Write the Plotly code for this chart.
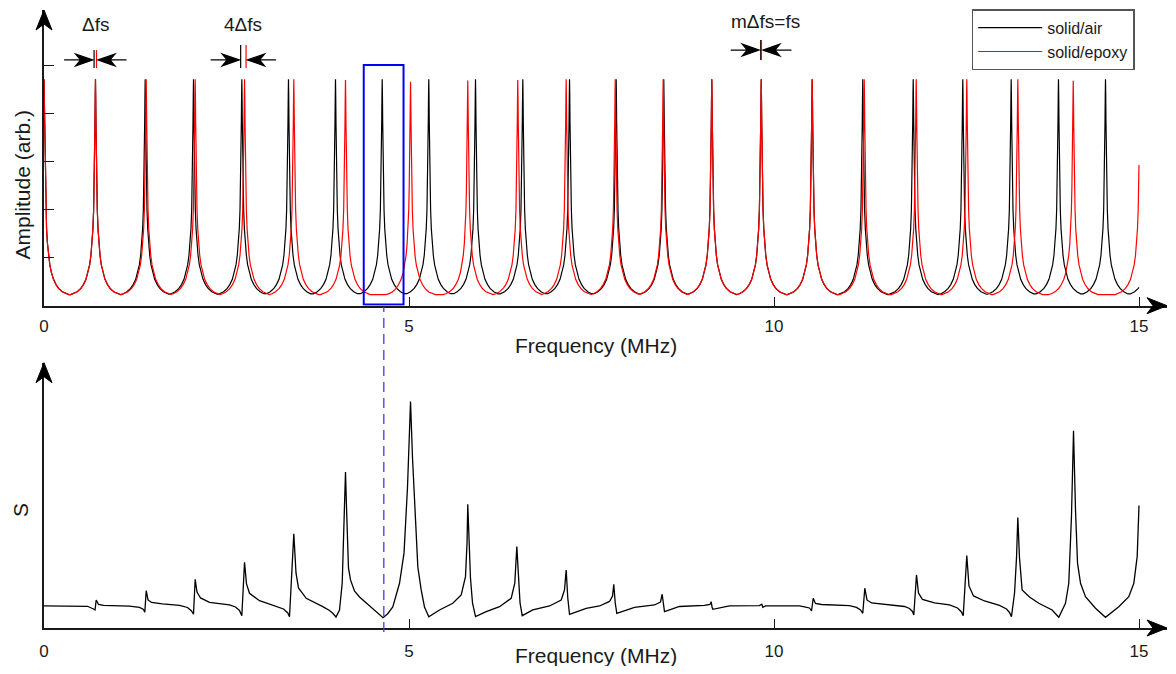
import numpy as np
import plotly.graph_objects as go

# ---------------- data ----------------
# resonance frequencies (MHz) and peak amplitudes (arb.) of the two spectra
air_peak_mhz = [0.0, 0.705, 1.386, 2.048, 2.710, 3.349, 3.993, 4.633, 5.271, 5.911, 6.559,
                7.199, 7.838, 8.490, 9.148, 9.825, 10.523, 11.216, 11.907, 12.586, 13.249,
                13.897, 14.541, 15.19]
air_peak_amp = [0.943] * len(air_peak_mhz)

epoxy_peak_mhz = [0.0, 0.705, 1.400, 2.071, 2.747, 3.422, 4.130, 5.021, 5.805, 6.490, 7.153,
                  7.825, 8.482, 9.148, 9.825, 10.523, 11.236, 11.948, 12.641, 13.340, 14.099,
                  15.014]
epoxy_peak_amp = [0.943, 0.943, 0.943, 0.943, 0.943, 0.943, 0.940, 0.933, 0.938, 0.940, 0.943,
                  0.943, 0.943, 0.943, 0.943, 0.943, 0.943, 0.943, 0.943, 0.943, 0.937,
                  0.943]

# line shape of one resonance: offset from its centre (MHz) -> amplitude (arb.)
shape_offset_mhz = [0.0, 0.003, 0.007, 0.012, 0.018, 0.025, 0.035, 0.047, 0.062, 0.08,
                    0.10, 0.13, 0.165, 0.20, 0.25, 0.30, 0.34]
shape_amp = [0.943, 0.88, 0.76, 0.63, 0.50, 0.40, 0.32, 0.26, 0.21, 0.17,
             0.14, 0.11, 0.088, 0.072, 0.058, 0.05, 0.046]

# S spectrum (lower panel)
s_freq_mhz = [0.000, 0.596, 0.678, 0.699, 0.715, 0.747, 0.815, 1.171, 1.308, 1.363, 1.381,
              1.400, 1.425, 1.473, 1.623, 1.856, 1.966, 2.021, 2.048, 2.071, 2.096, 2.144,
              2.267, 2.541, 2.623, 2.678, 2.710, 2.747, 2.774, 2.815, 2.952, 3.181, 3.281,
              3.340, 3.363, 3.422, 3.452, 3.486, 3.592, 3.819, 3.911, 3.956, 4.000, 4.048,
              4.085, 4.112, 4.130, 4.148, 4.171, 4.199, 4.253, 4.322, 4.486, 4.644, 4.705,
              4.778, 4.870, 4.932, 4.979, 5.003, 5.021, 5.048, 5.075, 5.121, 5.167, 5.212,
              5.271, 5.418, 5.600, 5.715, 5.774, 5.795, 5.805, 5.822, 5.842, 5.870, 5.911,
              6.058, 6.240, 6.400, 6.449, 6.477, 6.500, 6.521, 6.551, 6.696, 6.925, 7.085,
              7.130, 7.153, 7.175, 7.199, 7.427, 7.610, 7.747, 7.788, 7.805, 7.825, 7.847,
              8.089, 8.363, 8.445, 8.468, 8.486, 8.500, 8.705, 9.048, 9.123, 9.140, 9.151,
              9.162, 9.390, 9.801, 9.833, 9.847, 9.884, 10.349, 10.418, 10.486, 10.514,
              10.537, 10.568, 10.651, 11.034, 11.130, 11.185, 11.216, 11.244, 11.274, 11.336,
              11.582, 11.788, 11.856, 11.897, 11.915, 11.952, 11.979, 12.034, 12.199, 12.404,
              12.514, 12.568, 12.592, 12.641, 12.671, 12.733, 12.884, 13.089, 13.185, 13.226,
              13.253, 13.295, 13.322, 13.340, 13.363, 13.399, 13.500, 13.627, 13.810, 13.901,
              13.993, 14.038, 14.075, 14.103, 14.130, 14.158, 14.199, 14.267, 14.404, 14.541,
              14.723, 14.860, 14.929, 14.975, 15.000]
s_value = [1.000, 0.986, 0.864, 0.818, 1.273, 1.068, 1.027, 0.991, 0.932, 0.841, 0.714,
           1.695, 1.273, 1.159, 1.091, 1.023, 0.932, 0.773, 0.623, 2.214, 1.636, 1.364,
           1.168, 1.045, 0.955, 0.795, 0.559, 2.986, 2.000, 1.577, 1.241, 1.000, 0.864,
           0.682, 0.514, 4.273, 2.500, 1.818, 1.350, 0.968, 0.795, 0.668, 0.500, 0.818,
           2.032, 5.059, 7.077, 5.059, 2.727, 2.182, 1.682, 1.409, 0.936, 0.468, 0.636,
           0.955, 2.030, 3.410, 6.360, 8.640, 10.286, 7.730, 5.820, 2.770, 1.727, 0.955,
           0.514, 0.818, 1.123, 1.500, 2.332, 3.864, 5.623, 3.864, 2.273, 1.136, 0.514,
           0.741, 0.968, 1.350, 2.032, 3.695, 2.045, 1.136, 0.559, 0.818, 1.000, 1.273,
           1.727, 2.636, 1.364, 0.623, 0.895, 1.000, 1.205, 1.455, 1.986, 1.136, 0.668,
           0.932, 1.045, 1.182, 1.532, 1.000, 0.741, 0.977, 1.023, 1.068, 1.195, 0.955,
           0.850, 1.000, 1.014, 1.077, 0.941, 1.000, 1.000, 0.955, 0.909, 0.773,
           1.350, 1.114, 1.068, 1.014, 0.932, 0.818, 0.668, 1.805, 1.273, 1.136,
           1.045, 0.977, 0.886, 0.750, 0.591, 2.409, 1.591, 1.295, 1.136, 1.045,
           0.909, 0.727, 0.559, 3.286, 1.909, 1.455, 1.227, 1.023, 0.864, 0.705,
           0.514, 1.591, 3.182, 5.014, 3.182, 1.727, 1.409, 1.123, 0.818, 0.486,
           1.123, 2.032, 5.059, 8.955, 5.364, 2.941, 2.032, 1.423, 0.895, 0.486,
           0.968, 1.423, 2.032, 3.241, 5.559]

x_tick_vals = [0, 5, 10, 15]
x_tick_text = ["0", "5", "10", "15"]
amp_tick_vals = [0.2, 0.4, 0.6, 0.8, 1.0]

# markers of the frequency shifts in the upper panel
mark_label = ["Δfs", "4Δfs", "mΔfs=fs"]
mark_air_mhz = [0.686, 2.694, 9.818]
mark_epoxy_mhz = [0.719, 2.768, 9.828]

# ---------------- build ----------------
F_MAX = 15.0


def resonance_curve(peaks, amps):
    off = np.array(shape_offset_mhz)
    shp = np.array(shape_amp)
    xs = {0.0, F_MAX}
    for p in peaks:
        for d in off:
            for x in (p - d, p + d):
                if 0.0 <= x <= F_MAX:
                    xs.add(round(float(x), 5))
    xs = np.array(sorted(xs))
    ys = np.zeros_like(xs)
    for p, a in zip(peaks, amps):
        ys = np.maximum(ys, np.interp(np.abs(xs - p), off, shp) * a / shp[0])
    return xs, ys


air_x, air_y = resonance_curve(air_peak_mhz, air_peak_amp)
ep_x, ep_y = resonance_curve(epoxy_peak_mhz, epoxy_peak_amp)

# the html page places the figure 8 px inside the window on every side;
# keep the whole figure inside that box so nothing is cut off
OFF = 8
W, H = 1176 - 2 * OFF, 674 - 2 * OFF
PLOT_L, PLOT_R, PLOT_T, PLOT_B = 44, 1167, 10, 628      # window pixels
ML, MT = PLOT_L - OFF, PLOT_T - OFF
MR = (OFF + W) - PLOT_R
MB = (OFF + H) - PLOT_B
PW = W - ML - MR
PH = H - MT - MB
PX_PER_MHZ = 73.0
X_RANGE = [0, PW / PX_PER_MHZ]
TOP_DOM = [(PLOT_B - 305.7) / PH, 1.0]
BOT_DOM = [0.0, (PLOT_B - 362.7) / PH]
TOP_RANGE = [0, 1.232]
BOT_RANGE = [0, 12.045]


def px_x(px):
    return (px - PLOT_L) / PW


def px_y(py):
    return (PLOT_B - py) / PH


FONT = "Liberation Sans, Arial, Helvetica, sans-serif"
INK = "#1a1a1a"

fig = go.Figure()
fig.add_trace(go.Scatter(x=air_x, y=air_y, mode="lines", name="solid/air",
                         line=dict(color="#000000", width=1.2), xaxis="x", yaxis="y"))
fig.add_trace(go.Scatter(x=ep_x, y=ep_y, mode="lines", name="solid/epoxy",
                         line=dict(color="#ff0000", width=1.2), xaxis="x", yaxis="y"))
fig.add_trace(go.Scatter(x=s_freq_mhz, y=s_value, mode="lines", name="S", showlegend=False,
                         line=dict(color="#000000", width=1.3), xaxis="x2", yaxis="y2"))

xcommon = dict(range=X_RANGE, showline=True, linecolor=INK, linewidth=2, ticks="inside",
               ticklen=9, tickwidth=1.2, tickcolor=INK, tickvals=x_tick_vals,
               ticktext=x_tick_text, tickfont=dict(size=17, color=INK, family=FONT),
               showgrid=False, zeroline=False, fixedrange=True)

fig.update_layout(
    width=W, height=H, margin=dict(l=ML, r=MR, t=MT, b=MB, pad=0),
    paper_bgcolor="white", plot_bgcolor="white",
    font=dict(family=FONT, color=INK, size=16),
    xaxis=dict(anchor="y", domain=[0, 1], ticklabelstandoff=4, **xcommon),
    xaxis2=dict(anchor="y2", domain=[0, 1], ticklabelstandoff=7, **xcommon),
    yaxis=dict(anchor="x", domain=TOP_DOM, range=TOP_RANGE, showline=True, linecolor=INK,
               linewidth=2, ticks="inside", ticklen=10, tickwidth=1.2, tickcolor=INK,
               tickvals=amp_tick_vals, showticklabels=False, showgrid=False, zeroline=False),
    yaxis2=dict(anchor="x2", domain=BOT_DOM, range=BOT_RANGE, showline=True, linecolor=INK,
                linewidth=2, ticks="", showticklabels=False, showgrid=False, zeroline=False),
    legend=dict(x=px_x(971.7), y=px_y(9.3), xanchor="left", yanchor="top",
                bordercolor="#555555", borderwidth=1.5, bgcolor="white",
                font=dict(size=16, color=INK, family=FONT), itemwidth=64),
    showlegend=True,
)

shapes = []
# blue box around one resonance and the dashed guide
shapes.append(dict(type="rect", xref="x", yref="y", x0=4.38, x1=4.925, y0=0.005, y1=1.003,
                   line=dict(color="#0000ee", width=2)))
shapes.append(dict(type="line", xref="x", yref="paper", x0=4.655, x1=4.655, y0=px_y(632),
                   y1=px_y(307), line=dict(color="#3c3cf0", width=1.3, dash="10px,6px")))

# axis arrow heads (paper-referenced so they are not clipped by the plot areas)
RIGHT_HEAD = "M0,0 L-20,8 L-14,0 L-20,-8 Z"
UP_HEAD = "M0,0 L-8,-20 L0,-14 L8,-20 Z"
for ybase in (TOP_DOM[0], BOT_DOM[0]):
    shapes.append(dict(type="path", xref="paper", yref="paper", xsizemode="pixel",
                       ysizemode="pixel", xanchor=1.0, yanchor=ybase, path=RIGHT_HEAD,
                       fillcolor="#000000", line=dict(color="#000000", width=1)))
for ytop in (TOP_DOM[1], BOT_DOM[1]):
    shapes.append(dict(type="path", xref="paper", yref="paper", xsizemode="pixel",
                       ysizemode="pixel", xanchor=0.0, yanchor=ytop, path=UP_HEAD,
                       fillcolor="#000000", line=dict(color="#000000", width=1)))

# shift markers
mark_level = [1.024, 1.024, 1.065]
mark_lo = [0.99, 0.99, 1.024]
mark_hi = [1.065, 1.086, 1.107]
mark_text_x = [0.70, 2.72, 9.89]
mark_text_y = [1.17, 1.17, 1.183]
annotations = []
for i in range(len(mark_label)):
    fa, fe = mark_air_mhz[i], mark_epoxy_mhz[i]
    shapes.append(dict(type="line", xref="x", yref="y", x0=fa, x1=fa, y0=mark_lo[i],
                       y1=mark_hi[i], line=dict(color="#000000", width=1.2)))
    shapes.append(dict(type="line", xref="x", yref="y", x0=fe, x1=fe, y0=mark_lo[i],
                       y1=mark_hi[i], line=dict(color="#ff0000", width=1.2)))
    shapes.append(dict(type="path", xref="x", yref="y", xsizemode="pixel", ysizemode="pixel",
                       xanchor=fa, yanchor=mark_level[i],
                       path="M-30,0 L-14,0 M-1.5,0 L-18.5,6 L-13.5,0 L-18.5,-6 Z",
                       fillcolor="#000000", line=dict(color="#000000", width=1.2)))
    shapes.append(dict(type="path", xref="x", yref="y", xsizemode="pixel", ysizemode="pixel",
                       xanchor=fe, yanchor=mark_level[i],
                       path="M30,0 L14,0 M1.5,0 L18.5,6 L13.5,0 L18.5,-6 Z",
                       fillcolor="#000000", line=dict(color="#000000", width=1.2)))
    annotations.append(dict(xref="x", yref="y", x=mark_text_x[i], y=mark_text_y[i],
                            xanchor="center", yanchor="middle",
                            text=mark_label[i], showarrow=False,
                            font=dict(size=19, color=INK, family=FONT)))

# axis titles
title_font = dict(size=21, color=INK, family=FONT)
annotations += [
    dict(xref="paper", yref="paper", x=px_x(596), y=px_y(345), xanchor="center",
         yanchor="middle", text="Frequency (MHz)", showarrow=False, font=title_font),
    dict(xref="paper", yref="paper", x=px_x(596), y=px_y(655), xanchor="center",
         yanchor="middle", text="Frequency (MHz)", showarrow=False, font=title_font),
    dict(xref="paper", yref="paper", x=px_x(21.5), y=px_y(185), xanchor="center",
         yanchor="middle", text="Amplitude (arb.)", textangle=-90, showarrow=False,
         font=title_font),
    dict(xref="paper", yref="paper", x=px_x(21), y=px_y(510), xanchor="center",
         yanchor="middle", text="S", textangle=-90, showarrow=False, font=title_font),
]

fig.update_layout(shapes=shapes, annotations=annotations)
fig.write_html("out.html")
